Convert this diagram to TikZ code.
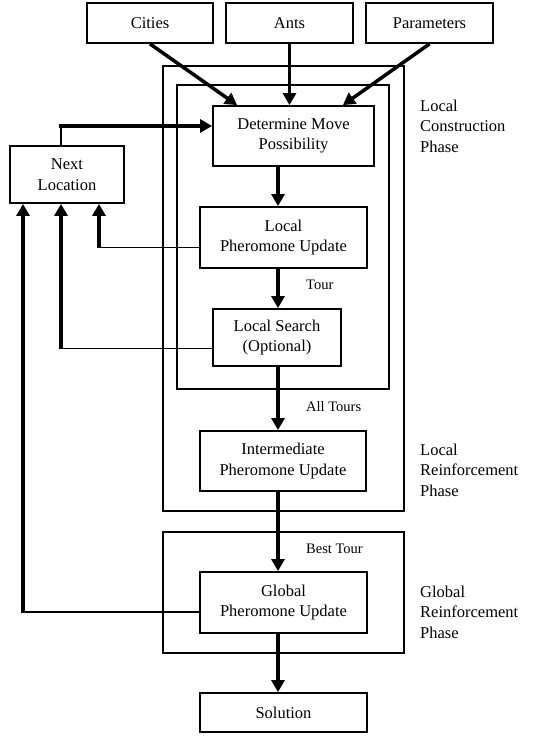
\documentclass[tikz,border=0pt]{standalone}
\usepackage{fontspec}
\setmainfont{Liberation Serif}
\usetikzlibrary{arrows.meta}

\begin{document}
\begin{tikzpicture}[x=1pt,y=-1pt,>={Triangle[length=12pt,width=13pt]},
  every node/.style={font=\fontsize{16.5}{20.5}\selectfont},
  stepbox/.style={draw,line width=1.8pt,align=center,inner sep=0pt},
  flow/.style={->,line width=3.5pt},
  back/.style={line width=1.8pt},
  frame/.style={line width=1.8pt},
  tag/.style={font=\fontsize{14.5}{17}\selectfont,anchor=west,inner sep=0pt},
  phase/.style={anchor=west,align=left,inner sep=0pt}]
  \useasboundingbox (0,0) rectangle (554,736);
  % frames
  \draw[frame] (163,66) rectangle (404,511);
  \draw[frame] (177,85) rectangle (389,389);
  \draw[frame] (163,532) rectangle (404,653);
  % inputs
  \node[stepbox,minimum width=126pt,minimum height=40pt] (cities) at (150,23) {Cities};
  \node[stepbox,minimum width=127pt,minimum height=40pt] (ants) at (289.5,23) {Ants};
  \node[stepbox,minimum width=127pt,minimum height=40pt] (params) at (429.5,23) {Parameters};
  % steps
  \node[stepbox,minimum width=161pt,minimum height=60pt] (det) at (293.5,136) {Determine Move\\Possibility};
  \node[stepbox,minimum width=114pt,minimum height=57pt] (next) at (67,174.5) {Next\\Location};
  \node[stepbox,minimum width=167pt,minimum height=61pt] (lpu) at (283.5,237.5) {Local\\Pheromone Update};
  \node[stepbox,minimum width=128pt,minimum height=57pt] (search) at (277,337.5) {Local Search\\(Optional)};
  \node[stepbox,minimum width=166pt,minimum height=60pt] (inter) at (283,461) {Intermediate\\Pheromone Update};
  \node[stepbox,minimum width=167pt,minimum height=61pt] (global) at (283.5,602.5) {Global\\Pheromone Update};
  \node[stepbox,minimum width=167pt,minimum height=39pt] (sol) at (283.5,712.5) {Solution};
  % phases
  \node[phase] (phase1) at (420,126) {Local\\Construction\\Phase};
  \node[phase] (phase2) at (420,470) {Local\\Reinforcement\\Phase};
  \node[phase] (phase3) at (420,612) {Global\\Reinforcement\\Phase};
  % tags
  \node[tag] (tour) at (306,285) {Tour};
  \node[tag] (all) at (306,407) {All Tours};
  \node[tag] (best) at (306,549) {Best Tour};
  % helper lines
  \coordinate (spine) at (278,0);
  \coordinate (c1) at (99,0);
  \coordinate (c2) at (61,0);
  \coordinate (c3) at (23,0);
  \coordinate (entry) at ([yshift=10pt]det.west);
  \coordinate (o1) at ([yshift=-10pt]lpu.west);
  \coordinate (o2) at ([yshift=-11pt]search.west);
  \coordinate (o3) at ([yshift=-9.5pt]global.west);
  % inputs to det
  \draw[flow] (cities.south) -- ([xshift=25pt]det.north west);
  \draw[flow] (ants.south) -- (ants.south |- det.north);
  \draw[flow] (params.south) -- ([xshift=-32pt]det.north east);
  % main chain
  \draw[flow] (det.south -| spine) -- (lpu.north -| spine);
  \draw[flow] (lpu.south -| spine) -- (search.north -| spine);
  \draw[flow] (search.south -| spine) -- (inter.north -| spine);
  \draw[flow] (inter.south -| spine) -- (global.north -| spine);
  \draw[flow] (global.south -| spine) -- (sol.north -| spine);
  % loops back
  \draw[back] (next.north -| c2) -- (c2 |- entry);
  \draw[flow] ([xshift=-1.75pt]c2 |- entry) -- (entry);
  \draw[back] (o1) -- (o1 -| c1);
  \draw[flow] ([yshift=-0.9pt]o1 -| c1) -- (next.south -| c1);
  \draw[back] (o2) -- (o2 -| c2);
  \draw[flow] ([yshift=-0.9pt]o2 -| c2) -- (next.south -| c2);
  \draw[back] (o3) -- (o3 -| c3);
  \draw[flow] ([yshift=-0.9pt]o3 -| c3) -- (next.south -| c3);
\end{tikzpicture}
\end{document}
